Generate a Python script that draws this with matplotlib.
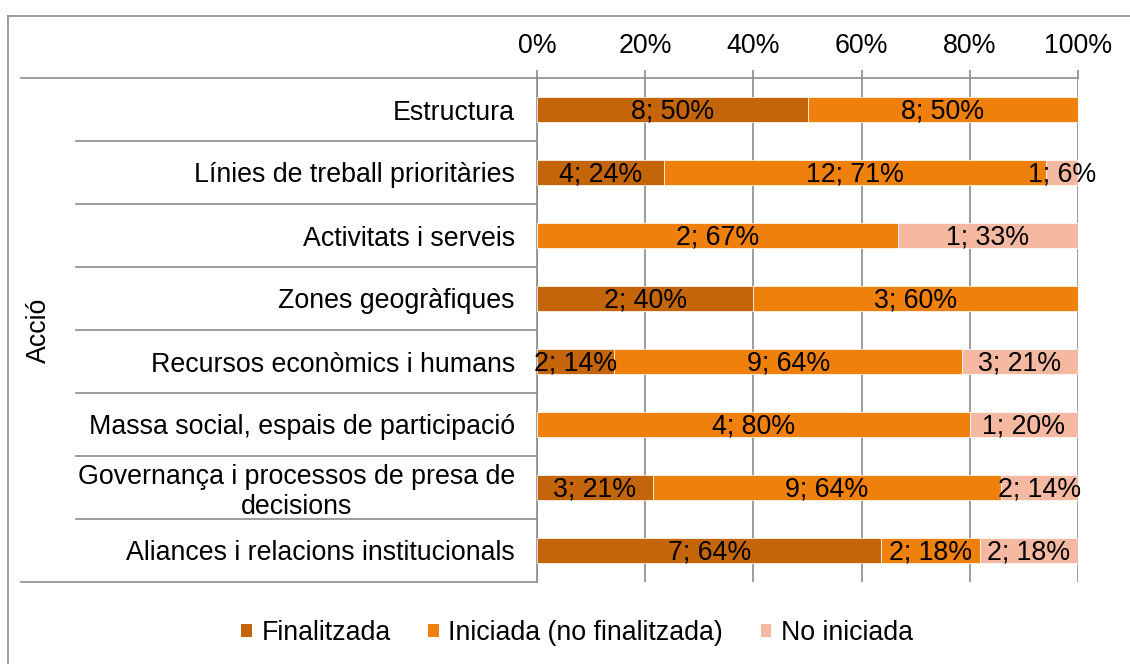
import numpy as np
import matplotlib
matplotlib.use('Agg')
import matplotlib.pyplot as plt
from matplotlib.lines import Line2D
from matplotlib.patches import Patch

plt.rcParams['font.family'] = ['Liberation Sans', 'DejaVu Sans']

# Données
categories = [
    'Estructura',
    'Línies de treball prioritàries',
    'Activitats i serveis',
    'Zones geogràfiques',
    'Recursos econòmics i humans',
    'Massa social, espais de participació',
    'Governança i processos de presa de\ndecisions',
    'Aliances i relacions institucionals',
]
finalitzada = [8, 4, 0, 2, 2, 0, 3, 7]
iniciada = [8, 12, 2, 3, 9, 4, 9, 2]
no_iniciada = [0, 1, 1, 0, 3, 1, 2, 2]

series_names = ['Finalitzada', 'Iniciada (no finalitzada)', 'No iniciada']
colors = ['#C5650A', '#F0800C', '#F5B9A1']
grid_col = '#8C8C8C'
fs = 19.3

counts = np.array([finalitzada, iniciada, no_iniciada], dtype=float)
totals = counts.sum(axis=0)
shares = counts / totals * 100

fig = plt.figure(figsize=(11.3, 6.64), dpi=100)
ax = fig.add_axes([537 / 1130, 1 - 582 / 664, 541 / 1130, 504 / 664])

y = np.arange(len(categories))
left = np.zeros(len(categories))
for k in range(3):
    ax.barh(y, shares[k], left=left, height=0.4, color=colors[k],
            edgecolor='white', linewidth=0.5, zorder=3)
    for i in range(len(categories)):
        if counts[k, i] > 0:
            ax.text(left[i] + shares[k, i] / 2, y[i] + 0.03,
                    f'{int(counts[k, i])}; {shares[k, i]:.0f}%',
                    ha='center', va='center', fontsize=fs, color='black', zorder=4)
    left += shares[k]

ax.set_xlim(0, 100)
ax.set_ylim(len(categories) - 0.5, -0.5)
ax.set_xticks(np.arange(0, 101, 20))
ax.set_xticklabels([f'{v}%' for v in range(0, 101, 20)])
ax.xaxis.tick_top()
ax.tick_params(axis='x', length=6, width=1.2, color=grid_col, pad=8, labelsize=fs)
ax.grid(axis='x', color=grid_col, linewidth=1.2, zorder=0)

ax.set_yticks(y)
ax.set_yticklabels(categories, fontsize=fs, multialignment='center')
ax.tick_params(axis='y', length=0, pad=16)

for s in ['right', 'bottom']:
    ax.spines[s].set_visible(False)
ax.spines['left'].set_color(grid_col)
ax.spines['left'].set_linewidth(1.2)
ax.spines['top'].set_color(grid_col)
ax.spines['top'].set_linewidth(1.2)

# Lignes de séparation des catégories
trans = ax.get_yaxis_transform()
for b in np.arange(-0.5, len(categories), 1.0):
    x0 = -0.954 if b in (-0.5, len(categories) - 0.5) else -0.852
    ax.add_line(Line2D([x0, 0], [b, b], transform=trans, color=grid_col,
                       linewidth=1.2, clip_on=False))

fig.text(39 / 1130, 1 - 330 / 664, 'Acció', rotation=90, ha='center', va='center',
         fontsize=fs)

# Légende
handles = [Patch(facecolor=c, edgecolor='none') for c in colors]
fig.legend(handles, series_names, loc='center', bbox_to_anchor=(577 / 1130, 1 - 633 / 664),
           ncol=3, frameon=False, fontsize=fs, handlelength=0.4, handleheight=0.4,
           handletextpad=0.35, columnspacing=1.4)

# Bordure du graphique
fig.add_artist(Line2D([8 / 1130, 8 / 1130], [0, 1 - 16 / 664], color=grid_col,
                      linewidth=1.2, transform=fig.transFigure))
fig.add_artist(Line2D([8 / 1130, 1], [1 - 16 / 664, 1 - 16 / 664], color=grid_col,
                      linewidth=1.2, transform=fig.transFigure))

fig.savefig('out.png', dpi=100)
